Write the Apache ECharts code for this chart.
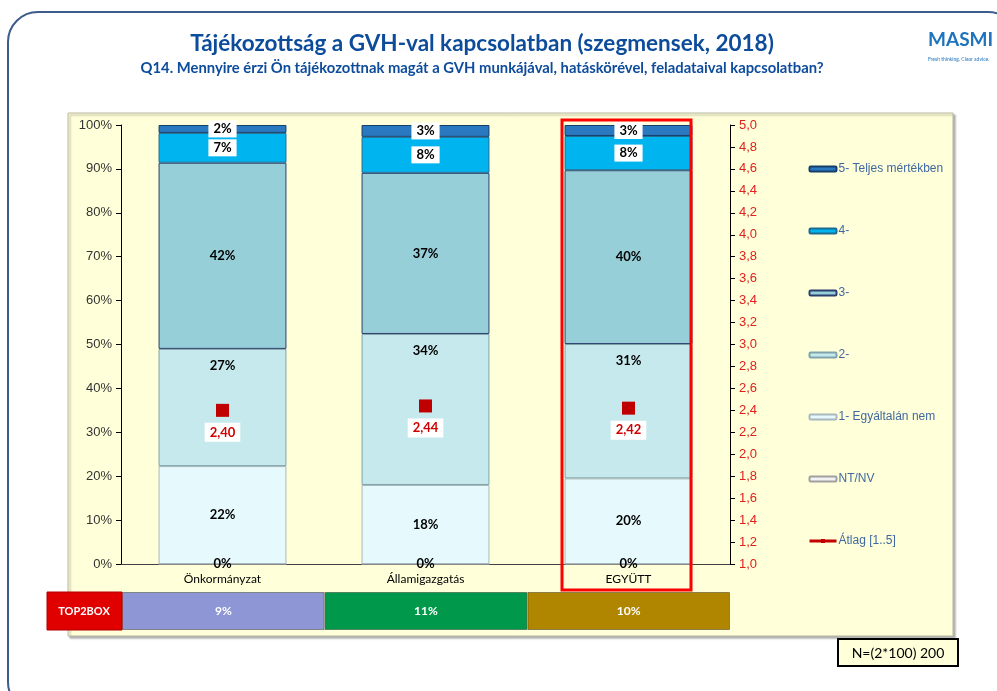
<!DOCTYPE html>
<html>
<head>
<meta charset="utf-8">
<script src="https://cdn.jsdelivr.net/npm/echarts@6/dist/echarts.min.js"></script>
<style>
  html, body { margin: 0; padding: 0; background: #fff; }
  #main { width: 997px; height: 691px; }
</style>
</head>
<body>
<div id="main"></div>
<script>
// kategóriák
var categories = ['Önkormányzat', 'Államigazgatás', 'EGYÜTT'];
// szegmensek (százalék, alulról felfelé)
var ntnv  = [0, 0, 0];
var val1  = [22.3, 18.0, 19.5];
var val2  = [26.7, 34.4, 30.6];
var val3  = [42.4, 36.7, 39.6];
var val4  = [6.8, 8.2, 7.8];
var val5  = [1.8, 2.7, 2.5];
// átlag [1..5]
var atlag = [2.40, 2.44, 2.42];
// top2box
var top2box = [9, 11, 10];
var top2Colors = ['#8F96D6', '#00994C', '#B08600'];

var labelFont = 'Lato, "Liberation Sans", sans-serif';

function pct(p) { return Math.round(p.value) + '%'; }

function barSeries(name, data, color, border, whiteBox, pos) {
	var label = {
		show: true,
		position: pos || 'inside',
		formatter: pct,
		color: '#000',
		fontWeight: 'bold',
		fontSize: 13,
		fontFamily: labelFont
	};
	if (pos) label.distance = 10;
	if (whiteBox) {
		label.backgroundColor = '#fff';
		label.padding = [2, 5];
	}
	return {
		name: name,
		type: 'bar',
		stack: 'all',
		barWidth: '63%',
		data: data,
		itemStyle: { color: color, borderColor: border, borderWidth: 1 },
		label: label
	};
}

var myChart = echarts.init(document.getElementById('main'));

var option = {
	backgroundColor: '#fff',
	animation: false,
	title: [{
		text: 'Tájékozottság a GVH-val kapcsolatban (szegmensek, 2018)',
		left: 477, top: 27, textAlign: 'center',
		textStyle: { color: '#0D4C9B', fontSize: 22.5, fontWeight: 'bold', fontFamily: labelFont }
	}, {
		text: 'Q14. Mennyire érzi Ön tájékozottnak magát a GVH munkájával, hatáskörével, feladataival kapcsolatban?',
		left: 477, top: 56, textAlign: 'center',
		textStyle: { color: '#0D4C9B', fontSize: 14.8, fontWeight: 'bold', fontFamily: labelFont }
	}],
	graphic: [
		// keret
		{ type: 'rect', z: -10, shape: { x: 8, y: 12, width: 1010, height: 700, r: 30 },
		  style: { fill: '#fff', stroke: '#3D5C8C', lineWidth: 2 } },
		// sárga háttér
		{ type: 'rect', z: -5, shape: { x: 68, y: 113, width: 885, height: 523 },
		  style: { fill: '#FFFFDA', stroke: '#B8B8A0', lineWidth: 1, shadowColor: 'rgba(0,0,0,0.3)', shadowOffsetX: 2, shadowOffsetY: 2, shadowBlur: 2 } },
		// logo
		{ type: 'text', left: 928, top: 30, style: { text: 'MASMI', fill: '#1E73BE', font: 'bold 19px ' + labelFont } },
		{ type: 'text', left: 928, top: 57, style: { text: 'Fresh thinking. Clear advice.', fill: '#1E73BE', font: '5px ' + labelFont } },
		// EGYÜTT kiemelés
		{ type: 'rect', z: 20, shape: { x: 562, y: 120, width: 129, height: 470 },
		  style: { fill: 'none', stroke: '#FF0000', lineWidth: 3 } },
		// TOP2BOX cimke
		{ type: 'rect', z: 10, shape: { x: 47, y: 592, width: 75, height: 38 },
		  style: { fill: '#E00000', stroke: '#B00000', lineWidth: 1 } },
		{ type: 'text', z: 11, x: 84, y: 611, style: { text: 'TOP2BOX', fill: '#fff', font: 'bold 11px ' + labelFont, align: 'center', verticalAlign: 'middle' } },
		// N
		{ type: 'rect', z: 10, shape: { x: 838, y: 639, width: 120, height: 27 },
		  style: { fill: '#FFFFDA', stroke: '#000', lineWidth: 2 } },
		{ type: 'text', z: 11, x: 898, y: 653, style: { text: 'N=(2*100) 200', fill: '#000', font: '14px ' + labelFont, align: 'center', verticalAlign: 'middle' } }
	],
	legend: {
		orient: 'vertical',
		left: 808, top: 163,
		padding: 0,
		itemWidth: 27, itemHeight: 5,
		itemGap: 50,
		textStyle: { color: '#4068A0', fontSize: 12, fontFamily: '"Liberation Sans", Arial, sans-serif', padding: [0, 0, 0, -3] },
		data: [
			'5- Teljes mértékben', '4-', '3-', '2-', '1- Egyáltalán nem', 'NT/NV',
			{ name: 'Átlag [1..5]', itemStyle: { color: '#C00000' }, lineStyle: { color: '#C00000', width: 3, opacity: 1 } }
		]
	},
	grid: [
		{ left: 121, top: 125, width: 609, height: 439 },
		{ left: 122, top: 592, width: 608, height: 38 }
	],
	xAxis: [{
		type: 'category', gridIndex: 0, data: categories,
		axisLine: { lineStyle: { color: '#404040' } },
		axisTick: { show: false },
		axisLabel: { color: '#000', fontSize: 12, fontFamily: labelFont, margin: 9 }
	}, {
		type: 'category', gridIndex: 1, data: categories,
		show: false
	}],
	yAxis: [{
		type: 'value', gridIndex: 0, min: 0, max: 100, interval: 10,
		axisLine: { show: true, lineStyle: { color: '#000' } },
		axisTick: { show: true, length: 5, lineStyle: { color: '#000' } },
		splitLine: { show: false },
		axisLabel: { color: '#333', fontSize: 13, fontFamily: '"Liberation Sans", Arial, sans-serif', formatter: '{value}%', margin: 9 }
	}, {
		type: 'value', gridIndex: 0, position: 'right', min: 1, max: 5, interval: 0.2,
		axisLine: { show: true, lineStyle: { color: '#000' } },
		axisTick: { show: true, length: 5, lineStyle: { color: '#000' } },
		splitLine: { show: false },
		axisLabel: { color: '#E0201B', fontSize: 13, fontFamily: '"Liberation Sans", Arial, sans-serif', margin: 9,
			formatter: function (v) { return v.toFixed(1).replace('.', ','); } }
	}, {
		type: 'value', gridIndex: 1, min: 0, max: 1, show: false
	}],
	series: [
		barSeries('NT/NV', ntnv, '#F2F2F2', '#A0A0A0', false),
		barSeries('1- Egyáltalán nem', val1, '#E6FAFD', '#A8B8BC', false),
		barSeries('2-', val2, '#C6E9ED', '#7FA3AA', false, 'insideTop'),
		barSeries('3-', val3, '#96CFD8', '#2B3F6E', false),
		barSeries('4-', val4, '#00B4F0', '#1F6A90', true),
		barSeries('5- Teljes mértékben', val5, '#2A78C0', '#153E6A', true),
		{
			name: 'Átlag [1..5]',
			type: 'line',
			yAxisIndex: 1,
			data: atlag,
			symbol: 'rect',
			symbolSize: 13,
			lineStyle: { width: 0, opacity: 0 },
			itemStyle: { color: '#C00000' },
			z: 5,
			label: {
				show: true,
				position: 'bottom',
				distance: 6,
				color: '#D00000',
				fontWeight: 'bold',
				fontSize: 13,
				fontFamily: labelFont,
				backgroundColor: '#fff',
				padding: [3, 5],
				formatter: function (p) { return p.value.toFixed(2).replace('.', ','); }
			}
		},
		{
			name: 'TOP2BOX',
			type: 'bar',
			xAxisIndex: 1,
			yAxisIndex: 2,
			barWidth: '100%',
			data: top2box.map(function (v, i) {
				return { value: 1, itemStyle: { color: top2Colors[i] } };
			}),
			itemStyle: { borderColor: 'rgba(0,0,0,0.35)', borderWidth: 1 },
			label: {
				show: true,
				position: 'inside',
				color: '#fff',
				fontWeight: 'bold',
				fontSize: 12,
				fontFamily: labelFont,
				formatter: function (p) { return top2box[p.dataIndex] + '%'; }
			}
		}
	]
};

myChart.setOption(option);
</script>
</body>
</html>
